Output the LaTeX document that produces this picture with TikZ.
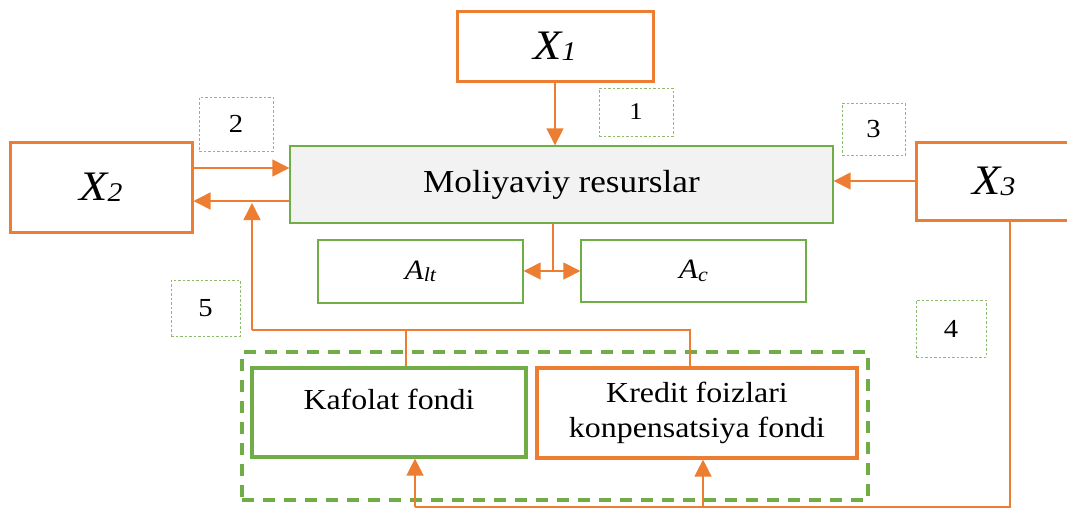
\documentclass[tikz,border=0pt]{standalone}
\usepackage{fontspec}
\setmainfont{Liberation Serif}[FakeStretch=1.1]
\usetikzlibrary{arrows.meta,calc}
\definecolor{org}{HTML}{ED7D31}
\definecolor{grn}{HTML}{70AD47}
\definecolor{lgray}{HTML}{F2F2F2}
\newcommand\fs[1]{\fontsize{#1}{#1}\selectfont}
\newcommand\sbx[1]{\raisebox{-1pt}{\fontsize{27}{27}\selectfont #1}}
\newcommand\sba[1]{\raisebox{-2.5pt}{\fontsize{20}{20}\selectfont #1}}
\begin{document}
\begin{tikzpicture}[x=1pt,y=-1pt,
  xbox/.style={draw=org,line width=3pt,inner sep=0pt,font=\fs{42}\itshape},
  gbox/.style={draw=grn,line width=1.4pt,inner sep=0pt},
  lbl/.style={draw=grn!80,line width=1pt,dash pattern=on 2.5pt off 2pt,inner sep=0pt,font=\fs{26}},
  conn/.style={draw=org,line width=1.5pt},
  arr/.style={conn,-{Triangle[length=17pt,width=17pt]}},
]
\useasboundingbox (0,0) rectangle (1067,509);
% main boxes
\node[xbox,minimum width=196pt,minimum height=70pt] (x1) at (555,46) {X\sbx{1}};
\node[xbox,minimum width=182pt,minimum height=90pt] (x2) at (101,187) {X\sbx{2}};
\node[xbox,minimum width=156pt,minimum height=78pt] (x3) at (994,181) {X\sbx{3}};
\node[gbox,fill=lgray,minimum width=543pt,minimum height=77pt,font=\fs{32}] (mol) at (561.5,184.5) {Moliyaviy resurslar};
\node[gbox,minimum width=205pt,minimum height=63pt,font=\fs{28}\itshape] (alt) at (420.5,271.5) {A\sba{lt}};
\node[gbox,minimum width=225pt,minimum height=62pt,font=\fs{28}\itshape] (ac) at (693.5,271) {A\sba{c}};
% container
\node[draw=grn,line width=3.5pt,dash pattern=on 12pt off 9pt,minimum width=626pt,minimum height=148pt,inner sep=0pt] (cont) at (555,426) {};
\node[draw=grn,line width=3.2pt,minimum width=274pt,minimum height=89pt,inner sep=0pt,font=\fs{29},text height=20pt,text depth=26pt] (kaf) at (389,412.5) {Kafolat fondi};
\node[draw=org,line width=3.2pt,minimum width=320pt,minimum height=90pt,inner sep=0pt,align=center,font=\fontsize{29}{35}\selectfont] (kre) at (697,413) {Kredit foizlari\\konpensatsiya fondi};
% number labels
\node[lbl,minimum width=74pt,minimum height=54pt] (l2) at (236,124) {2};
\node[lbl,minimum width=74pt,minimum height=48pt,font=\fs{24}] (l1) at (636,112) {1};
\node[lbl,minimum width=63pt,minimum height=52pt] (l3) at (873.5,129) {3};
\node[lbl,minimum width=69pt,minimum height=56pt] (l5) at (205.5,308) {5};
\node[lbl,minimum width=70pt,minimum height=57pt] (l4) at (951,328.5) {4};
% helper coordinates
\coordinate (ya) at (0,168);
\coordinate (yb) at (0,201);
\coordinate (d) at (553,271);
\coordinate (fb) at (252,330);
\coordinate (fbt) at (252,203);
\coordinate (bl) at (1010,507);
\coordinate (b1) at (415,507);
\coordinate (b2) at (703,507);
% connectors
\draw[arr] (x1.south) -- (x1.south |- mol.north);
\draw[arr] (x2.east |- ya) -- (mol.west |- ya);
\draw[arr] (mol.west |- yb) -- (x2.east |- yb);
\draw[arr] (x3.west) -- (mol.east |- x3.west);
\draw[conn] (mol.south -| d) -- (d);
\draw[arr] (d) -- (alt.east |- d);
\draw[arr] (d) -- (ac.west |- d);
\draw[conn] ([xshift=17pt]kaf.north) |- (fb);
\draw[conn] ([xshift=-7pt]kre.north) |- (fb);
\draw[arr] (fb) -- (fbt);
\draw[conn] (x3.south -| bl) -- (bl) -- (b1);
\draw[arr] (b1) -- (b1 |- kaf.south);
\draw[arr] (b2) -- (b2 |- kre.south);
\end{tikzpicture}
\end{document}
